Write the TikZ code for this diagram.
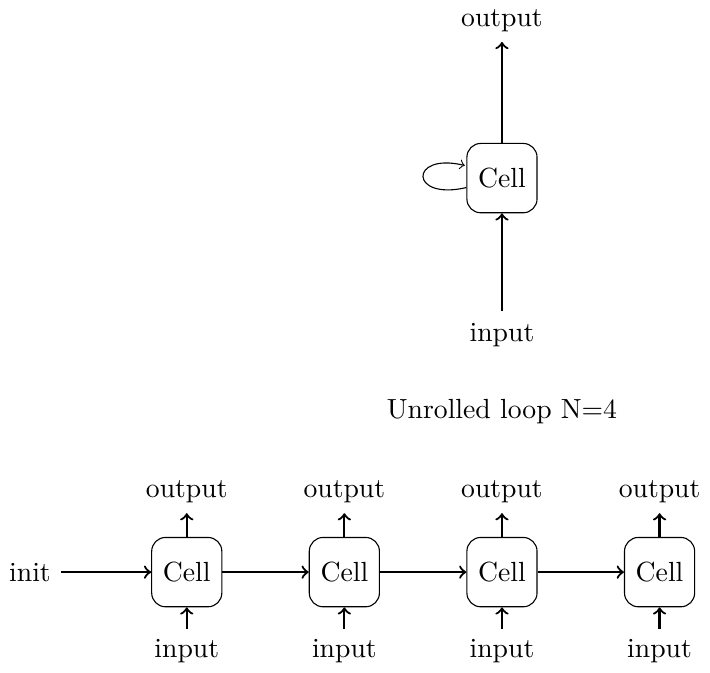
\documentclass[tikz,border=0pt]{standalone}
\usetikzlibrary{calc}
\begin{document}
\begin{tikzpicture}[
  cellbox/.style={draw, rounded corners=5pt, minimum width=0.89cm, minimum height=0.88cm, inner sep=2pt},
  lbl/.style={inner sep=3.5pt},
  conn/.style={->, thick}
]
\useasboundingbox (0,0) rectangle (9.01,-8.53);
% top rolled cell
\node[cellbox] (c) at (6.37,-2.26) {Cell};
\node[lbl] (out) at (6.37,-0.26) {output};
\node[lbl] (in) at (6.37,-4.25) {input};
\draw[conn] (c.north) -- (out.south);
\draw[conn] ($(in.north)+(0,0.02)$) -- (c.south);
\draw[->] ($(c.west)+(0,-0.12)$) .. controls (5.19,-2.55) and (5.19,-1.93) .. ($(c.west)+(-0.02,0.16)$);
% title
\node (title) at (6.37,-5.22) {Unrolled loop N=4};
% unrolled
\node[lbl] (init) at (0.38,-7.26) {init};
\foreach \i/\x in {1/2.37,2/4.37,3/6.37,4/8.37}{
  \node[cellbox] (u\i) at (\x,-7.26) {Cell};
  \node[lbl] (o\i) at (\x,-6.24) {output};
  \node[lbl] (p\i) at (\x,-8.26) {input};
  \draw[conn] (u\i.north) -- (o\i.south);
  \draw[conn] (p\i.north) -- (u\i.south);
}
\draw[conn] (init) -- (u1);
\draw[conn] (u1) -- (u2);
\draw[conn] (u2) -- (u3);
\draw[conn] (u3) -- (u4);
\end{tikzpicture}
\end{document}
